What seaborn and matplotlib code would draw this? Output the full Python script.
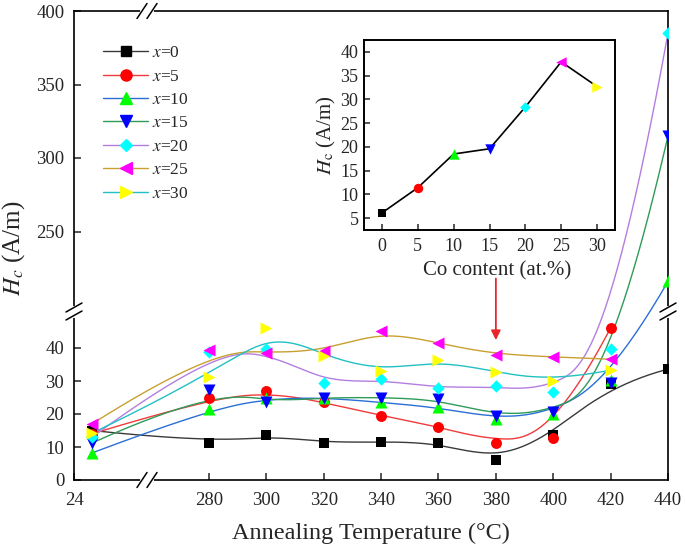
import numpy as np
import pandas as pd
import seaborn as sns
import matplotlib as mpl
mpl.use('Agg')
import matplotlib.pyplot as plt
from matplotlib.lines import Line2D

# annealing temperatures (25 = as-quenched / room temperature)
temps = [25, 280, 300, 320, 340, 360, 380, 400, 420, 440]

# coercivity Hc (A/m) for each Co content x
hc_x0  = [15.0, 11.3, 13.7, 11.3, 11.6, 11.3, 6.1, 13.7, 29.0, 33.6]
hc_x5  = [14.0, 24.7, 26.9, 23.5, 19.5, 16.2, 11.3, 12.8, 46.1]
hc_x10 = [8.2, 21.5, 24.7, 25.0, 23.5, 22.0, 18.6, 20.1, 30.2, 216.0]
hc_x15 = [11.2, 27.2, 23.5, 25.0, 25.0, 24.4, 19.5, 20.5, 29.3, 315.0]
hc_x20 = [13.0, 38.8, 39.7, 29.3, 30.5, 27.8, 28.4, 26.6, 39.7, 385.0]
hc_x25 = [17.0, 39.4, 38.5, 39.1, 45.2, 41.5, 37.9, 37.3, 36.6]
hc_x30 = [14.2, 31.2, 46.1, 37.6, 33.0, 36.3, 32.7, 29.9, 33.3]

# inset: Hc at 380 C vs Co content
co_content = [0, 5, 10, 15, 20, 25, 30]
hc_380 = [6.1, 11.4, 18.5, 19.6, 28.4, 37.9, 32.7]

xticks = [24, 280, 300, 320, 340, 360, 380, 400, 420, 440]
yticks = [0, 10, 20, 30, 40, 250, 300, 350, 400]

series = [('0', hc_x0), ('5', hc_x5), ('10', hc_x10), ('15', hc_x15),
          ('20', hc_x20), ('25', hc_x25), ('30', hc_x30)]

line_col = {'0': '#3a3a3a', '5': '#ef3b3b', '10': '#2a6fd6', '15': '#2e9b58',
            '20': '#b47ee0', '25': '#c8a030', '30': '#22c0c4'}
mark_col = {'0': '#000000', '5': '#ff0000', '10': '#00ff00', '15': '#0000ff',
            '20': '#00ffff', '25': '#ff00ff', '30': '#ffff00'}
mark_sty = {'0': 's', '5': 'o', '10': '^', '15': 'v', '20': 'D', '25': '<', '30': '>'}
mark_s   = {'0': 50, '5': 62, '10': 75, '15': 75, '20': 40, '25': 75, '30': 75}

sns.set_theme(style='ticks')
plt.rcParams['font.family'] = 'Liberation Serif'
plt.rcParams['mathtext.fontset'] = 'stix'


#----------------------------------------------------------
def make_map(bp, vp):
  """piecewise linear map used for the broken axes"""
  bp = np.asarray(bp, float)
  vp = np.asarray(vp, float)
  s0 = (vp[1] - vp[0]) / (bp[1] - bp[0])
  s1 = (vp[-1] - vp[-2]) / (bp[-1] - bp[-2])
  B = np.r_[bp[0] - 1e5, bp, bp[-1] + 1e5]
  V = np.r_[vp[0] - 1e5 * s0, vp, vp[-1] + 1e5 * s1]
  return (lambda a: np.interp(a, B, V)), (lambda a: np.interp(a, V, B))

fx, ix = make_map([24, 27.8, 260, 440], [0, 68.4, 77.6, 594])
fy, iy = make_map([0, 50, 200, 400], [0, 165, 175, 469])


def bspline(px, py, k=3, num=400):
  """clamped cubic B-spline through control points (Origin style line)"""
  n = len(px)
  knots = np.concatenate([np.zeros(k), np.linspace(0, 1, n - k + 1), np.ones(k)])
  t = np.linspace(0, 1, num)
  t[-1] -= 1e-9
  B = np.array([(knots[i] <= t) & (t < knots[i + 1]) for i in range(len(knots) - 1)], float)
  for d in range(1, k + 1):
    Bn = np.zeros((len(knots) - 1 - d, num))
    for i in range(len(knots) - 1 - d):
      a = knots[i + d] - knots[i]
      b = knots[i + d + 1] - knots[i + 1]
      if a > 0:
        Bn[i] += (t - knots[i]) / a * B[i]
      if b > 0:
        Bn[i] += (knots[i + d + 1] - t) / b * B[i + 1]
    B = Bn
  return B.T @ np.asarray(px), B.T @ np.asarray(py)


fig = plt.figure(figsize=(6.85, 5.47), dpi=100)
ax = fig.add_axes([74/685, 67/547, 594/685, 469/547])
ax.set_xscale('function', functions=(fx, ix))
ax.set_yscale('function', functions=(fy, iy))

handles = []
for key, vals in series:
  x = np.array(temps[:len(vals)], float)
  y = np.array(vals, float)
  cx, cy = bspline(fx(x), fy(y))
  ax.plot(ix(cx), iy(cy), color=line_col[key], lw=1.0, zorder=2)
  df = pd.DataFrame({'T': x, 'Hc': y})
  sns.scatterplot(data=df, x='T', y='Hc', ax=ax, marker=mark_sty[key],
                  color=mark_col[key], s=mark_s[key], linewidth=0, zorder=3)
  handles.append(Line2D([], [], color=line_col[key], lw=1.0, marker=mark_sty[key],
                        markerfacecolor=mark_col[key], markeredgecolor=mark_col[key],
                        markersize=8 if mark_sty[key] not in 'sD' else 6.5,
                        label=r'$x$=' + key))

ax.set_xlim(24, 440)
ax.set_ylim(0, 400)
ax.xaxis.set_major_locator(mpl.ticker.FixedLocator(xticks))
ax.yaxis.set_major_locator(mpl.ticker.FixedLocator(yticks))
ax.xaxis.set_minor_locator(mpl.ticker.NullLocator())
ax.yaxis.set_minor_locator(mpl.ticker.NullLocator())
ax.xaxis.set_major_formatter(mpl.ticker.FormatStrFormatter('%d'))
ax.yaxis.set_major_formatter(mpl.ticker.FormatStrFormatter('%d'))
ax.tick_params(axis='x', direction='in', length=5, width=1.1, labelsize=13.5, pad=8.5, top=False)
ax.tick_params(axis='y', direction='in', length=5, width=1.1, labelsize=13.5, pad=7, right=False)
for sp in ax.spines.values():
  sp.set_linewidth(1.2)
  sp.set_color('black')

ax.set_xlabel('Annealing Temperature (°C)', fontsize=17.5)
ax.set_ylabel(r'$H_c$ (A/m)', fontsize=18)
ax.xaxis.set_label_coords(0.5, -0.113)
ax.xaxis.label.set_va('center')
ax.yaxis.set_label_coords(-0.101, 0.495)
ax.yaxis.label.set_va('center')

# axis breaks
W, H = 594.0, 469.0
for yb in (0, 1):
  c1, c2 = (142 - 74) / W, (152 - 74) / W
  ax.plot([c1, c2], [yb, yb], color='white', lw=3, transform=ax.transAxes, clip_on=False, zorder=10)
  for c in (c1, c2):
    ax.plot([c - 5/W, c + 5/W], [yb - 7.5/H, yb + 7.5/H], color='black', lw=1.1,
            transform=ax.transAxes, clip_on=False, zorder=11)
for xb in (0, 1):
  c1, c2 = 164.5 / H, 172.5 / H
  ax.plot([xb, xb], [c1, c2], color='white', lw=3, transform=ax.transAxes, clip_on=False, zorder=10)
  for c in (c1, c2):
    ax.plot([xb - 8/W, xb + 8/W], [c - 4.5/H, c + 4.5/H], color='black', lw=1.1,
            transform=ax.transAxes, clip_on=False, zorder=11)

leg = ax.legend(handles=handles, loc='upper left', bbox_to_anchor=(103/685, 1 - 45/547),
                bbox_transform=fig.transFigure, frameon=False, fontsize=12.5,
                handlelength=2.6, handletextpad=0.25, labelspacing=0.42, borderpad=0,
                borderaxespad=0)

# red arrow pointing at 380 C
ax.annotate('', xy=(380, 42.4), xytext=(380, 218),
            arrowprops=dict(arrowstyle='-|>', color='#e8262a', lw=1.3,
                            mutation_scale=14, shrinkA=0, shrinkB=0), zorder=6)

# inset
axi = fig.add_axes([364/685, (547 - 230)/547, 251/685, 190/547])
df_in = pd.DataFrame({'co': co_content, 'hc': hc_380})
sns.lineplot(data=df_in, x='co', y='hc', ax=axi, color='black', lw=1.2, zorder=2)
for i, key in enumerate(['0', '5', '10', '15', '20', '25', '30']):
  axi.scatter(co_content[i], hc_380[i], marker=mark_sty[key], color=mark_col[key],
              s=mark_s[key] * 0.75, linewidths=0, zorder=3)
axi.set_xlim(-2.5, 32.5)
axi.set_ylim(2.5, 42.5)
axi.set_xticks(co_content)
axi.set_yticks(range(5, 45, 5))
axi.tick_params(direction='in', length=4, width=1.1, labelsize=13, pad=4)
axi.tick_params(axis='x', pad=6)
for sp in axi.spines.values():
  sp.set_linewidth(1.4)
  sp.set_color('black')
axi.set_xlabel('Co content (at.%)', fontsize=15, labelpad=2)
axi.set_ylabel(r'$H_\mathrm{c}$ (A/m)', fontsize=15, labelpad=2)
axi.xaxis.set_label_coords(0.53, -0.165)

plt.savefig('out.png', dpi=100)
plt.close(fig=None)
